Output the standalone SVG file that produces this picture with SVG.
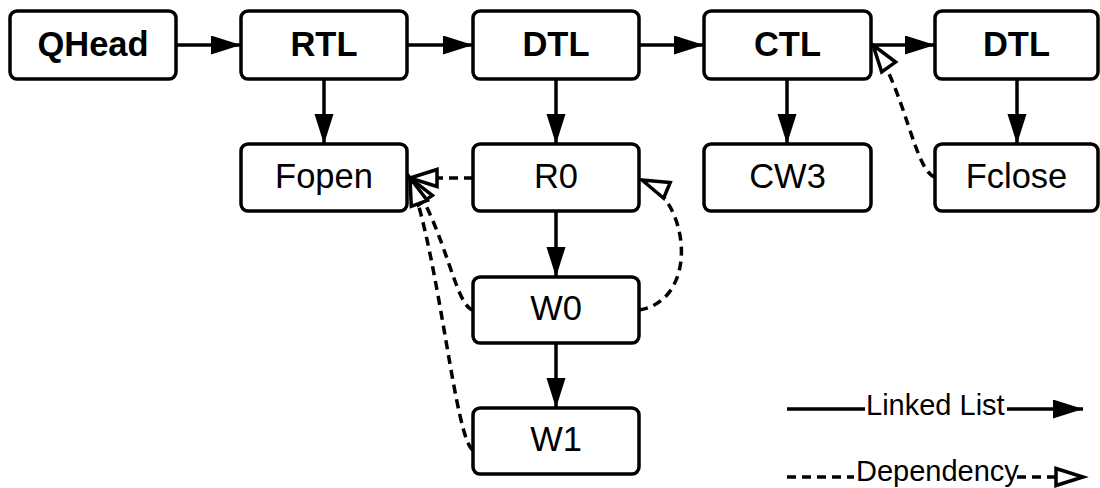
<svg xmlns="http://www.w3.org/2000/svg" width="1100" height="488" viewBox="0 0 1100 488">
  <style>
    .box { fill: #fff; stroke: #000; stroke-width: 3.5; }
    .lbl { font-family: "Liberation Sans", Arial, sans-serif; font-size: 34.5px; fill: #000; text-anchor: middle; }
    .bold { font-weight: bold; }
    .link { fill: none; stroke: #000; stroke-width: 3.5; marker-end: url(#solid); }
    .dep { fill: none; stroke: #000; stroke-width: 3.5; stroke-dasharray: 9 6; marker-end: url(#hollow); }
    .legend { font-family: "Liberation Sans", Arial, sans-serif; font-size: 29px; fill: #000; }
  </style>
  <defs>
    <marker id="solid" markerUnits="userSpaceOnUse" viewBox="0 0 32 20" markerWidth="32" markerHeight="20" refX="30" refY="9.5" orient="auto">
      <path d="M0,0 L30,9.5 L0,19 z" fill="#000"/>
    </marker>
    <marker id="hollow" markerUnits="userSpaceOnUse" viewBox="0 0 36 24" markerWidth="36" markerHeight="24" refX="30" refY="12" orient="auto">
      <path d="M3,3.5 L30,12 L3,20.5 z" fill="#fff" stroke="#000" stroke-width="3.5" stroke-linejoin="miter"/>
    </marker>
  </defs>

  <!-- linked-list and dependency connectors -->
  <g id="connectors">
    <path class="link" d="M176,45 L241,45"/>
    <path class="link" d="M407,45 L473,45"/>
    <path class="link" d="M639,45 L704,45"/>
    <path class="link" d="M871,45 L935,45"/>
    <path class="link" d="M324,79 L324,144"/>
    <path class="link" d="M556,79 L556,144"/>
    <path class="link" d="M787,79 L787,144"/>
    <path class="link" d="M1017,79 L1017,144"/>
    <path class="link" d="M556,211 L556,277"/>
    <path class="link" d="M556,343 L556,408"/>

    <path class="dep" d="M473,178 L410,178"/>
    <path class="dep" d="M473,310 C455,306 446,230 410,178"/>
    <path class="dep" d="M473,450 C455,440 440,260 410,178"/>
    <path class="dep" d="M639,310 C700,300 690,200 642,180"/>
    <path class="dep" d="M935,177 C915,172 905,90 873,45"/>
  </g>

  <g id="qhead"><rect class="box" x="10" y="11" width="166" height="68" rx="7"/><text class="lbl bold" x="93" y="56">QHead</text></g>
  <g id="rtl"><rect class="box" x="241" y="11" width="166" height="68" rx="7"/><text class="lbl bold" x="324" y="56">RTL</text></g>
  <g id="dtl1"><rect class="box" x="473" y="11" width="166" height="68" rx="7"/><text class="lbl bold" x="556" y="56">DTL</text></g>
  <g id="ctl"><rect class="box" x="704" y="11" width="167" height="68" rx="7"/><text class="lbl bold" x="787.5" y="56">CTL</text></g>
  <g id="dtl2"><rect class="box" x="935" y="11" width="163" height="68" rx="7"/><text class="lbl bold" x="1016.5" y="56">DTL</text></g>

  <g id="fopen"><rect class="box" x="241" y="144" width="166" height="67" rx="7"/><text class="lbl" x="324" y="188">Fopen</text></g>
  <g id="r0"><rect class="box" x="473" y="144" width="166" height="67" rx="7"/><text class="lbl" x="556" y="188">R0</text></g>
  <g id="cw3"><rect class="box" x="704" y="144" width="167" height="67" rx="7"/><text class="lbl" x="787.5" y="188">CW3</text></g>
  <g id="fclose"><rect class="box" x="935" y="144" width="163" height="67" rx="7"/><text class="lbl" x="1016.5" y="188">Fclose</text></g>

  <g id="w0"><rect class="box" x="473" y="277" width="166" height="66" rx="7"/><text class="lbl" x="556" y="320">W0</text></g>
  <g id="w1"><rect class="box" x="473" y="408" width="166" height="66" rx="7"/><text class="lbl" x="556" y="451">W1</text></g>

  <!-- key -->
  <g id="legend">
    <path d="M787,409 L865,409" stroke="#000" stroke-width="3.5" fill="none"/>
    <text class="legend" x="866" y="415">Linked List</text>
    <path class="link" d="M1007,409 L1083,409"/>
    <path d="M787,477 L854,477" stroke="#000" stroke-width="3.5" stroke-dasharray="9 6" fill="none"/>
    <text class="legend" x="856" y="481">Dependency</text>
    <path class="dep" d="M1017,477 L1083,477"/>
  </g>
</svg>
